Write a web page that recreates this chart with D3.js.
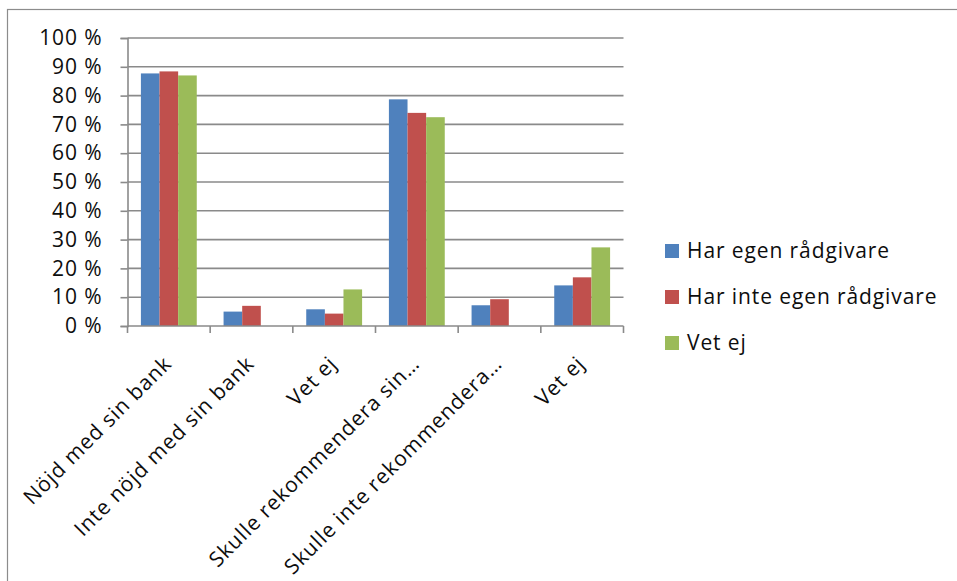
<!DOCTYPE html>
<html>
<head>
<meta charset="utf-8">
<script src="https://cdn.jsdelivr.net/npm/d3@7"></script>
<style>
  html, body { margin: 0; padding: 0; background: #fff; }
  svg { display: block; }
  text { font-family: "Open Sans", "Noto Sans", sans-serif; fill: #0d0d0d; letter-spacing: 0.9px; }
</style>
</head>
<body>
<svg id="chart" width="957" height="581"></svg>
<script>
// Survey categories along the x axis
const categories = [
  "Nöjd med sin bank",
  "Inte nöjd med sin bank",
  "Vet ej",
  "Skulle rekommendera sin…",
  "Skulle inte rekommendera…",
  "Vet ej "
];
// Series names and their share (percent) per category
const seriesNames = ["Har egen rådgivare", "Har inte egen rådgivare", "Vet ej"];
const harEgen      = [87.7, 5.0, 5.8, 78.7, 7.2, 14.1];
const harInteEgen  = [88.4, 7.0, 4.3, 74.0, 9.3, 16.9];
const vetEj        = [87.0, 0,   12.7, 72.5, 0,  27.3];
const seriesColors = ["#4F81BD", "#C0504D", "#9BBB59"];
const yTicks = [0, 10, 20, 30, 40, 50, 60, 70, 80, 90, 100];

const seriesValues = [harEgen, harInteEgen, vetEj];
const rows = categories.map((c, i) => ({
  cat: c,
  vals: seriesNames.map((s, k) => ({ series: s, value: seriesValues[k][i], k }))
}));

const svg = d3.select("#chart");
const plot = { left: 127.5, right: 623.5, top: 38, bottom: 326 };
const fontSize = "21px";

// Outer frame of the chart area
svg.append("rect")
  .attr("x", 7.5).attr("y", 9.5)
  .attr("width", 1000).attr("height", 700)
  .attr("fill", "none").attr("stroke", "#8c8c8c").attr("stroke-width", 1.2);

const y = d3.scaleLinear().domain([0, 100]).range([plot.bottom, plot.top]);
const x0 = d3.scaleBand().domain(categories).range([plot.left, plot.right]).padding(0);
const x1 = d3.scaleBand().domain(seriesNames).range([0, x0.bandwidth()])
  .paddingInner(0).paddingOuter(0.72);

// Horizontal gridlines
svg.append("g")
  .selectAll("line")
  .data(yTicks.filter(t => t > 0))
  .join("line")
  .attr("x1", plot.left).attr("x2", plot.right)
  .attr("y1", d => y(d)).attr("y2", d => y(d))
  .attr("stroke", "#8a8a8a").attr("stroke-width", 1.6);

// Bars
svg.append("g")
  .selectAll("g")
  .data(rows)
  .join("g")
  .attr("transform", d => `translate(${x0(d.cat)},0)`)
  .selectAll("rect")
  .data(d => d.vals)
  .join("rect")
  .attr("x", d => x1(d.series))
  .attr("width", x1.bandwidth())
  .attr("y", d => y(d.value))
  .attr("height", d => y(0) - y(d.value))
  .attr("fill", d => seriesColors[d.k]);

// Y axis
const yAxis = d3.axisLeft(y)
  .tickValues(yTicks)
  .tickSize(7)
  .tickPadding(18)
  .tickFormat(d => d + " %");
const gy = svg.append("g").attr("transform", `translate(${plot.left},0)`).call(yAxis);
gy.select(".domain").attr("stroke", "#8a8a8a").attr("stroke-width", 1.6);
gy.selectAll(".tick line").attr("stroke", "#8a8a8a").attr("stroke-width", 1.6);
gy.selectAll(".tick text")
  .style("font-size", fontSize)
  .style("font-family", "'Open Sans', sans-serif")
  .attr("fill", "#0d0d0d");

// X axis baseline with tick marks at category boundaries
const gx = svg.append("g");
gx.append("line")
  .attr("x1", plot.left).attr("x2", plot.right)
  .attr("y1", plot.bottom).attr("y2", plot.bottom)
  .attr("stroke", "#8a8a8a").attr("stroke-width", 1.6);
const boundaries = categories.map(c => x0(c)).concat([x0(categories[categories.length - 1]) + x0.bandwidth()]);
gx.selectAll("line.tick")
  .data(boundaries)
  .join("line")
  .attr("class", "tick")
  .attr("x1", d => d).attr("x2", d => d)
  .attr("y1", plot.bottom).attr("y2", plot.bottom + 7)
  .attr("stroke", "#8a8a8a").attr("stroke-width", 1.6);

// Rotated category labels
gx.selectAll("text")
  .data(categories)
  .join("text")
  .attr("transform", d => `translate(${x0(d) + x0.bandwidth() / 2 + 4},${plot.bottom + 39}) rotate(-45)`)
  .attr("text-anchor", "end")
  .style("font-size", fontSize)
  .text(d => d.trim());

// Legend
const legend = svg.append("g");
const legendY = [251, 297, 343];
seriesNames.forEach((s, i) => {
  legend.append("rect")
    .attr("x", 665).attr("y", legendY[i] - 7)
    .attr("width", 14).attr("height", 14)
    .attr("fill", seriesColors[i]);
  legend.append("text")
    .attr("x", 687).attr("y", legendY[i])
    .attr("dy", "0.35em")
    .style("font-size", fontSize)
    .text(s);
});
</script>
</body>
</html>
